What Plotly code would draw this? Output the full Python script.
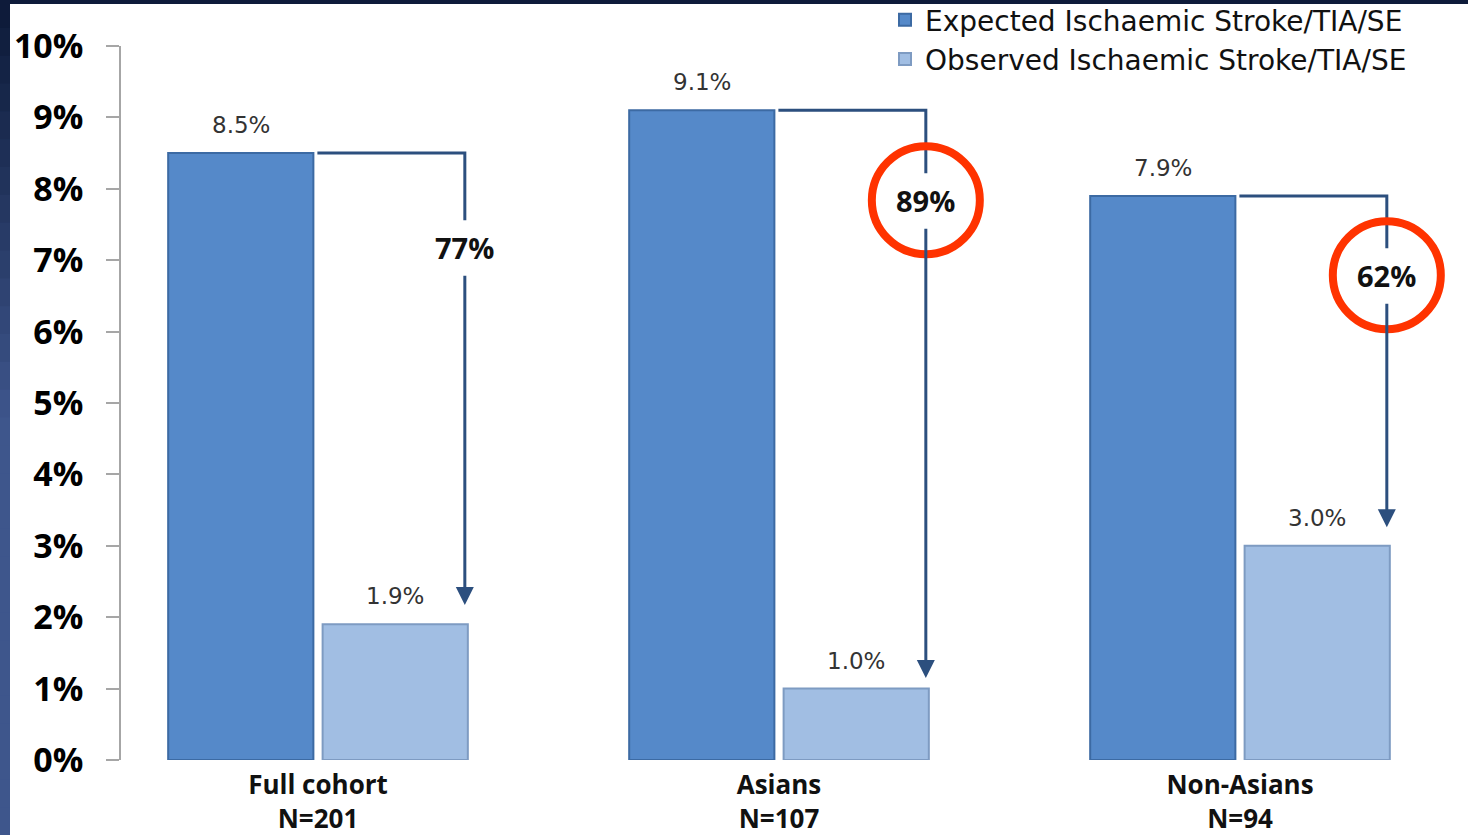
import plotly.graph_objects as go

# ---- data ----
categories = ["Full cohort", "Asians", "Non-Asians"]
n_labels = ["N=201", "N=107", "N=94"]
expected = [8.5, 9.1, 7.9]
observed = [1.9, 1.0, 3.0]
reduction = ["77%", "89%", "62%"]
circled = [False, True, True]
reduction_y = [7.18, 7.84, 6.79]     # vertical position of the reduction label
arrow_end = [2.17, 1.15, 3.26]       # where each arrow tip sits
y_ticks = list(range(0, 11))
y_ticktext = [f"{v}%" for v in y_ticks]

# ---- geometry (px) ----
W, H = 1468, 835
ML, MR, MT, MB = 121, 8, 46, 75
PW = W - ML - MR
PH = H - MT - MB
UNIT = 461.0                   # px per category
X0 = -(318 - ML) / UNIT
X1 = X0 + PW / UNIT
Y_PX = PH / 10.0               # px per 1 %

BAR_W = 0.315
GAP = 0.01
off_exp = -(BAR_W + GAP)
off_obs = GAP

xs = list(range(len(categories)))

fig = go.Figure()
fig.add_trace(go.Bar(
    x=xs, y=expected, name="Expected Ischaemic Stroke/TIA/SE",
    width=BAR_W, offset=off_exp,
    marker=dict(color="#5589C9", line=dict(color="#3C6AA3", width=2)),
    hoverinfo="skip",
))
fig.add_trace(go.Bar(
    x=xs, y=observed, name="Observed Ischaemic Stroke/TIA/SE",
    width=BAR_W, offset=off_obs,
    marker=dict(color="#A1BEE3", line=dict(color="#7E9BC2", width=2)),
    hoverinfo="skip",
))

annotations = []
shapes = []

ARROW_C = "#2C4F7E"
gap_u = 27 / Y_PX
LBL_FONT = dict(family="DejaVu Sans", size=23, color="#333333")

for i in xs:
    # value labels
    annotations.append(dict(x=i + off_exp + BAR_W / 2, y=expected[i], xref="x", yref="y",
                            text=f"{expected[i]:.1f}%", showarrow=False, yshift=28,
                            font=LBL_FONT))
    annotations.append(dict(x=i + off_obs + BAR_W / 2, y=observed[i], xref="x", yref="y",
                            text=f"{observed[i]:.1f}%", showarrow=False, yshift=28,
                            font=LBL_FONT))
    # connector: horizontal then down
    xl = i + off_exp + BAR_W + 4 / UNIT
    xv = i + off_obs + BAR_W - 3 / UNIT
    shapes.append(dict(type="path", xref="x", yref="y",
                       path=f"M {xl},{expected[i]} L {xv},{expected[i]} L {xv},{reduction_y[i] + gap_u}",
                       line=dict(color=ARROW_C, width=3)))
    annotations.append(dict(x=xv, y=arrow_end[i], ax=xv, ay=reduction_y[i] - gap_u,
                            xref="x", yref="y", axref="x", ayref="y", text="",
                            showarrow=True, arrowhead=2, arrowsize=1.2, arrowwidth=3,
                            arrowcolor=ARROW_C))
    annotations.append(dict(x=xv, y=reduction_y[i], xref="x", yref="y", text=f"<b>{reduction[i]}</b>",
                            showarrow=False, font=dict(family="Open Sans", size=29, color="#111111")))
    if circled[i]:
        shapes.append(dict(type="circle", xref="x", yref="y",
                           xsizemode="pixel", ysizemode="pixel",
                           xanchor=xv, yanchor=reduction_y[i],
                           x0=-54, x1=54, y0=-54, y1=54,
                           line=dict(color="#FF3300", width=8)))

# dark frame (top and left edges), gradient on the left stripe
def px_to_paper_x(px):
    return (px - ML) / PW

def py_to_paper_y(py):
    return (H - MB - py) / PH

shapes.append(dict(type="rect", xref="paper", yref="paper", layer="below",
                   x0=px_to_paper_x(0), x1=px_to_paper_x(W), y0=py_to_paper_y(4), y1=py_to_paper_y(0),
                   fillcolor="#0E1B3A", line=dict(width=0)))
steps = 30
c_top = (14, 27, 58)
c_bot = (62, 86, 140)
for k in range(steps):
    t = k / (steps - 1)
    tt = min(1.0, t * 2.0)
    c = tuple(int(c_top[j] + (c_bot[j] - c_top[j]) * tt) for j in range(3))
    y_top = H * k / steps
    y_bot = H * (k + 1) / steps + 1
    shapes.append(dict(type="rect", xref="paper", yref="paper", layer="below",
                       x0=px_to_paper_x(0), x1=px_to_paper_x(10),
                       y0=py_to_paper_y(y_bot), y1=py_to_paper_y(y_top),
                       fillcolor=f"rgb{c}", line=dict(width=0)))

fig.update_layout(
    width=W, height=H,
    margin=dict(l=ML, r=MR, t=MT, b=MB, pad=0, autoexpand=False),
    paper_bgcolor="white", plot_bgcolor="white",
    barmode="overlay",
    showlegend=True,
    legend=dict(x=px_to_paper_x(1412), y=py_to_paper_y(-5),
                xanchor="right", yanchor="top",
                font=dict(family="DejaVu Sans", size=28, color="#111111"),
                bgcolor="rgba(0,0,0,0)", itemwidth=30, tracegroupgap=0,
                traceorder="normal"),
    xaxis=dict(range=[X0, X1], tickvals=xs,
               ticktext=[f"<b>{c}</b><br><b>{n}</b>" for c, n in zip(categories, n_labels)],
               tickfont=dict(family="Open Sans", size=26, color="#111111"),
               ticklabelstandoff=7,
               showline=False, showgrid=False, zeroline=False, ticks="", fixedrange=True),
    yaxis=dict(range=[0, 10], tickvals=y_ticks, ticktext=[f"<b>{t}</b>" for t in y_ticktext],
               tickfont=dict(family="Open Sans", size=34, color="#000000"),
               showline=True, linecolor="#A6A6A6", linewidth=1.5,
               ticks="outside", ticklen=13, tickcolor="#A6A6A6", tickwidth=1.5,
               ticklabelstandoff=16,
               showgrid=False, zeroline=False, fixedrange=True),
    annotations=annotations,
    shapes=shapes,
)

fig.write_html("out.html")
